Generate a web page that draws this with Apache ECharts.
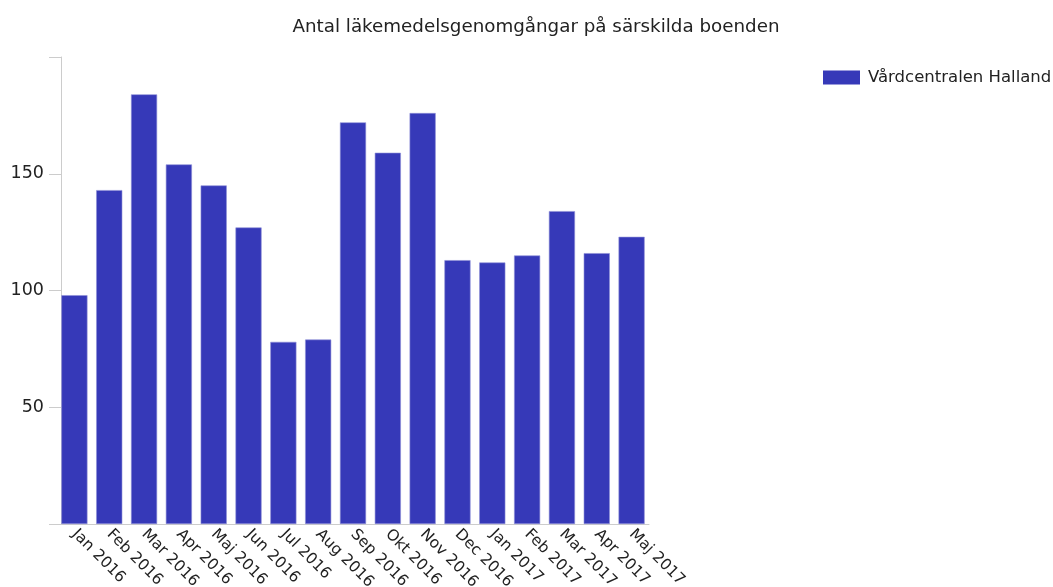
<!DOCTYPE html>
<html>
<head>
<meta charset="utf-8">
<script src="https://cdn.jsdelivr.net/npm/echarts@6/dist/echarts.min.js"></script>
<style>
html,body{margin:0;padding:0;background:#fff;}
#chart{width:1053px;height:587px;}
</style>
</head>
<body>
<div id="chart"></div>
<script>
const categories = ['Jan 2016','Feb 2016','Mar 2016','Apr 2016','Maj 2016','Jun 2016','Jul 2016','Aug 2016','Sep 2016','Okt 2016','Nov 2016','Dec 2016','Jan 2017','Feb 2017','Mar 2017','Apr 2017','Maj 2017'];
const seriesName = 'Vårdcentralen Halland';
const values = [98, 143, 184, 154, 145, 127, 78, 79, 172, 159, 176, 113, 112, 115, 134, 116, 123];
const yTickLabels = ['50', '100', '150'];
const titleText = 'Antal läkemedelsgenomgångar på särskilda boenden';

const FONT = 'DejaVu Sans, Liberation Sans, Arial, sans-serif';
const chart = echarts.init(document.getElementById('chart'), null, {renderer: 'canvas'});
chart.setOption({
  animation: false,
  textStyle: {fontFamily: FONT},
  title: {
    text: titleText,
    left: 531,
    textAlign: 'center',
    top: 13,
    textStyle: {fontSize: 18.3, fontWeight: 'normal', color: '#222', fontFamily: FONT}
  },
  legend: {
    data: [seriesName],
    left: 818,
    top: 64,
    itemWidth: 37,
    itemHeight: 14,
    icon: 'rect',
    itemStyle: {borderWidth: 0},
    textStyle: {fontSize: 16.5, color: '#222', fontFamily: FONT, padding: [0,0,0,3]}
  },
  grid: {left: 57, right: 404, top: 57, bottom: 63, containLabel: false, outerBoundsMode: 'none'},
  xAxis: {
    type: 'category',
    data: categories,
    axisLine: {lineStyle: {color: '#ccc', width: 1}},
    axisTick: {show: false},
    axisLabel: {
      rotate: -45,
      interval: 0,
      margin: 8,
      fontSize: 15.5,
      color: '#222',
      fontFamily: FONT
    }
  },
  yAxis: {
    type: 'value',
    min: 0,
    max: 200,
    interval: 50,
    offset: -4,
    axisLine: {show: true, lineStyle: {color: '#ccc', width: 1}},
    axisTick: {show: true, inside: false, length: 12, lineStyle: {color: '#ccc'}},
    splitLine: {show: false},
    axisLabel: {
      margin: 17,
      fontSize: 17.5,
      color: '#222',
      fontFamily: FONT,
      formatter: function (v) { const s = String(v); return yTickLabels.indexOf(s) >= 0 ? s : ''; }
    }
  },
  series: [{
    name: seriesName,
    type: 'bar',
    data: values,
    barCategoryGap: '25%',
    itemStyle: {color: '#3639b8', borderColor: '#8f91d6', borderWidth: 0.6}
  }]
});
</script>
</body>
</html>
